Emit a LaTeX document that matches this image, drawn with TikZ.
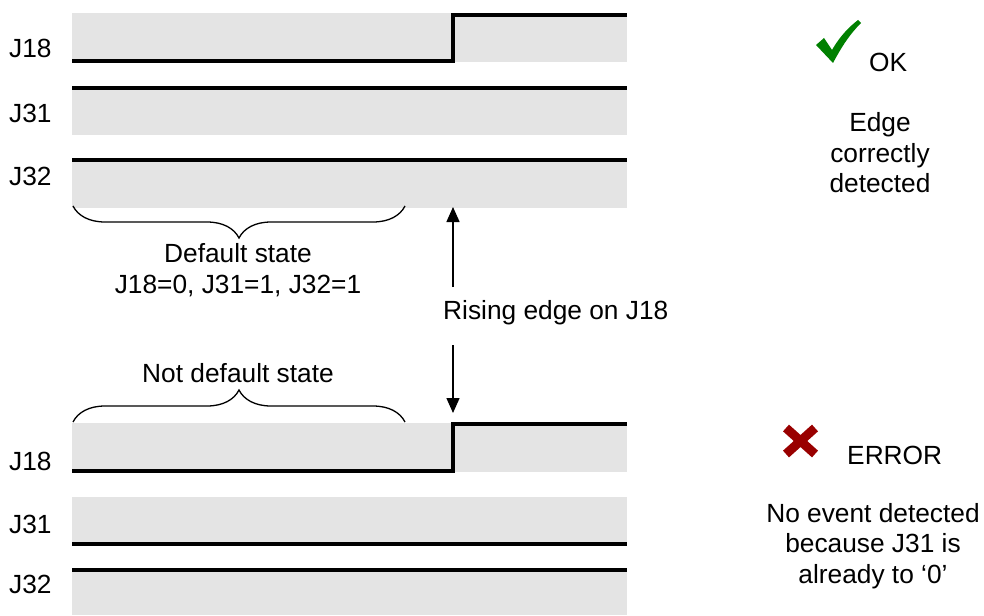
\documentclass[tikz,border=0pt]{standalone}
\usepackage{fontspec}
\setmainfont{Liberation Sans}
\usetikzlibrary{arrows.meta,decorations.pathreplacing}
\definecolor{bandgray}{RGB}{228,228,228}
\definecolor{okgreen}{RGB}{0,128,0}
\definecolor{errred}{RGB}{153,0,0}
\begin{document}
\begin{tikzpicture}[x=1pt,y=-1pt,
  band/.style={fill=bandgray,draw=none},
  sig/.style={line width=3.5pt,line join=miter},
  lbl/.style={font=\fontsize{26.3}{30.5}\selectfont,inner sep=0pt},
  brc/.style={decorate,decoration={brace,amplitude=32pt},line width=1.3pt},
  arr/.style={line width=1.5pt,-{Triangle[length=15pt,width=13pt]}}]
\useasboundingbox (0,0) rectangle (984,615);

% ---------- top diagram ----------
\fill[band] (72,13) rectangle (627,62);
\fill[band] (72,87) rectangle (627,135);
\fill[band] (72,159) rectangle (627,208);
\coordinate (t18a) at (72,61);
\coordinate (t18b) at (453,61);
\coordinate (t18c) at (453,15);
\coordinate (t18d) at (627,15);
\draw[sig] (t18a) -- (t18b) -- (t18c) -- (t18d);
\coordinate (t31a) at (72,88);
\coordinate (t31b) at (627,88);
\draw[sig] (t31a) -- (t31b);
\coordinate (t32a) at (72,160);
\coordinate (t32b) at (627,160);
\draw[sig] (t32a) -- (t32b);
\node[lbl,anchor=base west] (lt18) at (9,58) {J18};
\node[lbl,anchor=base west] (lt31) at (9,122) {J31};
\node[lbl,anchor=base west] (lt32) at (9,185) {J32};

\coordinate (tbL) at (73,206);
\coordinate (tbR) at (405,206);
\draw[brc,decoration={mirror}] (tbL) -- (tbR);
\node[lbl,align=center] (deflt) at (238,270) {Default state\\J18=0, J31=1, J32=1};

% ---------- middle ----------
\node[lbl,anchor=west] (rise) at (443,313) {Rising edge on J18};
\coordinate (upS) at (453,287);
\coordinate (upE) at (453,207);
\coordinate (dnS) at (453,345);
\coordinate (dnE) at (453,413);
\draw[arr] (upS) -- (upE);
\draw[arr] (dnS) -- (dnE);

% ---------- bottom diagram ----------
\fill[band] (72,423) rectangle (627,472);
\fill[band] (72,497) rectangle (627,545);
\fill[band] (72,569) rectangle (627,615);
\coordinate (b18a) at (72,471);
\coordinate (b18b) at (453,471);
\coordinate (b18c) at (453,424);
\coordinate (b18d) at (627,424);
\draw[sig] (b18a) -- (b18b) -- (b18c) -- (b18d);
\coordinate (b31a) at (72,544);
\coordinate (b31b) at (627,544);
\draw[sig] (b31a) -- (b31b);
\coordinate (b32a) at (72,570);
\coordinate (b32b) at (627,570);
\draw[sig] (b32a) -- (b32b);
\node[lbl,anchor=base west] (lb18) at (9,470) {J18};
\node[lbl,anchor=base west] (lb31) at (9,533) {J31};
\node[lbl,anchor=base west] (lb32) at (9,593) {J32};

\coordinate (bbL) at (73,422);
\coordinate (bbR) at (405,422);
\draw[brc] (bbL) -- (bbR);
\node[lbl,anchor=base] (notdef) at (238,382) {Not default state};

% ---------- right side ----------
\fill[okgreen] (816,45) -- (824,38) -- (832,50)
   .. controls (840,36) and (849,27) .. (858,20) -- (861,23)
   .. controls (850,34) and (842,46) .. (833,63) -- cycle;
\node[lbl,anchor=base west] (ok) at (869,72) {OK};
\node[lbl,align=center] (okt) at (880,153) {Edge\\correctly\\detected};

\draw[errred,line width=9pt] (786,428) -- (815,454);
\draw[errred,line width=9pt] (815,428) -- (786,454);
\node[lbl,anchor=base west] (err) at (847,464) {ERROR};
\node[lbl,align=center] (errt) at (873,546) {No event detected\\because J31 is\\already to ‘0’};
\end{tikzpicture}
\end{document}
